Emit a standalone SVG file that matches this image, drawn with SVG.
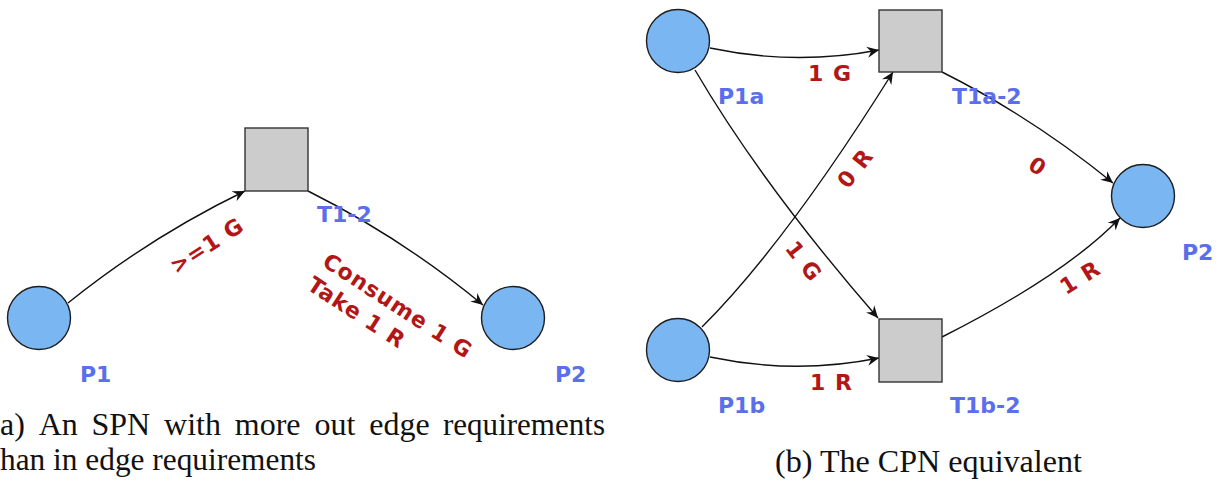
<svg xmlns="http://www.w3.org/2000/svg" width="1225" height="487" viewBox="0 0 1225 487">
  <style>
    .place { fill: #7ab6f2; stroke: #1e1e1e; stroke-width: 1.4; }
    .trans { fill: #cccccc; stroke: #333333; stroke-width: 1.4; }
    .edge { fill: none; stroke: #111111; stroke-width: 1.4; marker-end: url(#arrow); }
    .name { font-family: "DejaVu Sans", Verdana, sans-serif; font-weight: bold; font-size: 22px; fill: #5a6fec; }
    .weight { font-family: "DejaVu Sans", Verdana, sans-serif; font-weight: bold; font-size: 22px; fill: #b31616; letter-spacing: 1px; }
    .caption { font-family: "Liberation Serif", "Times New Roman", serif; font-size: 32px; fill: #111111; }
  </style>
  <defs>
    <marker id="arrow" markerUnits="userSpaceOnUse" markerWidth="13" markerHeight="12" refX="12" refY="6" orient="auto">
      <path d="M0,0.5 L12,6 L0,11.5 L4,6 Z" fill="#111111"/>
    </marker>
  </defs>

  <rect width="1225" height="487" fill="#ffffff"/>

  <!-- (a) single transition net -->
  <g id="connectors-a">
    <path class="edge" d="M68,303 Q150,237 245,191"/>
    <path class="edge" d="M308,191 Q402,238 483,305"/>
    <text class="weight" text-anchor="middle" transform="translate(211,252) rotate(-33)">&gt;=1 G</text>
    <text class="weight" transform="translate(321,265) rotate(33)">Consume 1 G<tspan x="0" dy="28">Take 1 R</tspan></text>
  </g>
  <g id="P1">
    <circle class="place" cx="39" cy="318" r="31.5"/>
    <text class="name" x="80" y="382">P1</text>
  </g>
  <g id="T1-2">
    <rect class="trans" x="245" y="128" width="63" height="63"/>
    <text class="name" x="317" y="222">T1-2</text>
  </g>
  <g id="P2-a">
    <circle class="place" cx="513" cy="318" r="31.5"/>
    <text class="name" x="555" y="382">P2</text>
  </g>

  <!-- (b) coloured net -->
  <g id="connectors-b">
    <path class="edge" d="M710,48 Q795,66 879,50"/>
    <path class="edge" d="M710,357 Q795,375 879,358"/>
    <path class="edge" d="M695,70 Q763,186 878,318"/>
    <path class="edge" d="M702,327 Q786,243 893,72"/>
    <path class="edge" d="M942,72 Q1032,117 1113,183"/>
    <path class="edge" d="M942,337 Q1065,275 1120,218"/>
    <text class="weight" x="808" y="81">1 G</text>
    <text class="weight" x="810" y="390">1 R</text>
    <text class="weight" text-anchor="middle" transform="translate(855,168) rotate(-52)" dy="8">0 R</text>
    <text class="weight" text-anchor="middle" transform="translate(804,261) rotate(52)" dy="8">1 G</text>
    <text class="weight" text-anchor="middle" transform="translate(1038,166) rotate(32)" dy="8">0</text>
    <text class="weight" text-anchor="middle" transform="translate(1080,277) rotate(-32)" dy="8">1 R</text>
  </g>
  <g id="P1a">
    <circle class="place" cx="678" cy="41" r="31.5"/>
    <text class="name" x="718" y="104">P1a</text>
  </g>
  <g id="P1b">
    <circle class="place" cx="678" cy="350" r="31.5"/>
    <text class="name" x="718" y="413">P1b</text>
  </g>
  <g id="T1a-2">
    <rect class="trans" x="879" y="10" width="63" height="62"/>
    <text class="name" x="952" y="104">T1a-2</text>
  </g>
  <g id="T1b-2">
    <rect class="trans" x="879" y="319" width="63" height="63"/>
    <text class="name" x="950" y="413">T1b-2</text>
  </g>
  <g id="P2-b">
    <circle class="place" cx="1143" cy="196" r="31.5"/>
    <text class="name" x="1182" y="260">P2</text>
  </g>

  <!-- sub-figure captions (first line set justified word by word) -->
  <g id="caption-a" class="caption">
    <text x="0" y="435">a)</text>
    <text x="38.7" y="435">An</text>
    <text x="91.4" y="435">SPN</text>
    <text x="164.1" y="435">with</text>
    <text x="234.8" y="435">more</text>
    <text x="314.5" y="435">out</text>
    <text x="369.2" y="435">edge</text>
    <text x="443" y="435" textLength="162" lengthAdjust="spacingAndGlyphs">requirements</text>
    <text x="0" y="470" textLength="316" lengthAdjust="spacingAndGlyphs">han in edge requirements</text>
  </g>
  <g id="caption-b" class="caption">
    <text x="775" y="472" textLength="307" lengthAdjust="spacingAndGlyphs">(b) The CPN equivalent</text>
  </g>
</svg>
